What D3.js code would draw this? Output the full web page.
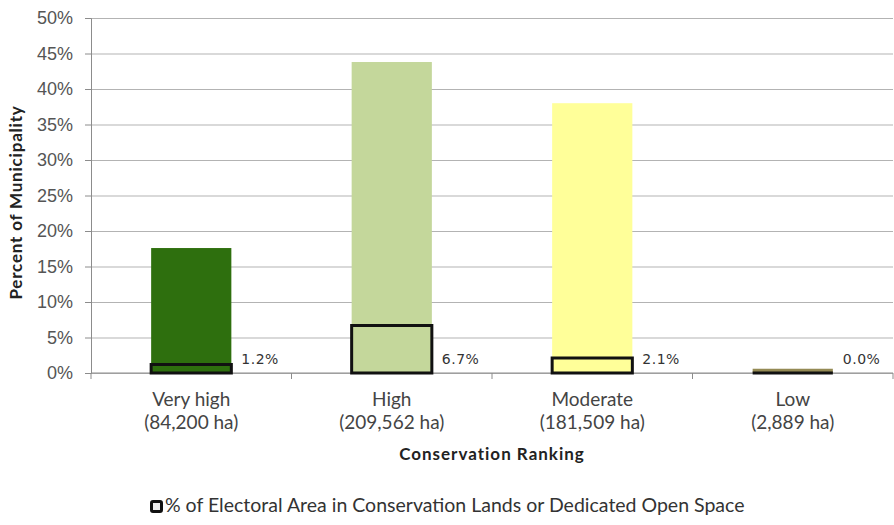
<!DOCTYPE html>
<html>
<head>
<meta charset="utf-8">
<script src="https://cdn.jsdelivr.net/npm/d3@7"></script>
<style>
  body { margin: 0; background: #fff; }
  svg { font-family: Lato, "Open Sans", sans-serif; }
</style>
</head>
<body>
<div id="chart"></div>
<script>
// chart data
const categories = ["Very high", "High", "Moderate", "Low"];
const hectares = ["(84,200 ha)", "(209,562 ha)", "(181,509 ha)", "(2,889 ha)"];
const municipalityPct = [17.6, 43.8, 38.0, 0.6];
const conservationPct = [1.2, 6.7, 2.1, 0.0];
const barColors = ["#2e6f0e", "#c4d79b", "#ffff99", "#948a54"];
const yTicks = [0, 5, 10, 15, 20, 25, 30, 35, 40, 45, 50];

// set the dimensions and margins of the graph
const margin = { top: 18, right: 1, bottom: 152, left: 91 },
    width = 894 - margin.left - margin.right,
    height = 525 - margin.top - margin.bottom;

let svg = d3.select("#chart")
    .append("svg")
    .attr("width", width + margin.left + margin.right)
    .attr("height", height + margin.top + margin.bottom)
    .append("g")
    .attr("transform", "translate(" + margin.left + "," + margin.top + ")");

// scales
let x = d3.scaleBand()
    .domain(categories)
    .range([0, width])
    .paddingInner(0.6)
    .paddingOuter(0.3);

let y = d3.scaleLinear()
    .domain([0, 50])
    .range([height, 0]);

// gridlines + y axis
svg.append("g")
    .call(d3.axisLeft(y).tickValues(yTicks).tickSize(-width).tickFormat(""))
    .call(g => g.select(".domain").remove())
    .selectAll("line")
    .attr("stroke", "#b3b3b3");

svg.append("g")
    .call(d3.axisLeft(y).tickValues(yTicks).tickSize(6).tickPadding(12).tickFormat(d => d + "%"))
    .call(g => g.select(".domain").attr("stroke", "#8c8c8c"))
    .call(g => g.selectAll("line").attr("stroke", "#8c8c8c"))
    .selectAll("text")
    .attr("font-size", "18px")
    .attr("fill", "#555");

// y axis title
svg.append("text")
    .attr("transform", "rotate(-90)")
    .attr("x", -height / 2 - 7)
    .attr("y", -69)
    .style("text-anchor", "middle")
    .attr("font-size", "17px")
    .attr("font-weight", "bold")
    .attr("letter-spacing", "0.8px")
    .attr("fill", "#222")
    .text("Percent of Municipality");

// main bars
svg.selectAll(".bar")
    .data(categories)
    .enter()
    .append("rect")
    .attr("class", "bar")
    .attr("x", d => x(d))
    .attr("width", x.bandwidth())
    .attr("y", (d, i) => y(municipalityPct[i]))
    .attr("height", (d, i) => height - y(municipalityPct[i]))
    .attr("fill", (d, i) => barColors[i]);

// x axis
let step = x.step();
svg.append("g")
    .attr("transform", "translate(0," + height + ")")
    .call(g => g.append("line")
        .attr("x1", 0).attr("x2", width)
        .attr("stroke", "#8c8c8c"))
    .selectAll(".tk")
    .data(d3.range(categories.length + 1))
    .enter()
    .append("line")
    .attr("x1", i => i * step)
    .attr("x2", i => i * step)
    .attr("y1", 0)
    .attr("y2", 6)
    .attr("stroke", "#8c8c8c");

// outlined conservation bars (path so a 0% bar still draws its edge)
svg.selectAll(".outline")
    .data(categories)
    .enter()
    .append("path")
    .attr("class", "outline")
    .attr("d", (d, i) => {
        let p = d3.path();
        p.rect(x(d), y(conservationPct[i]), x.bandwidth(), height - y(conservationPct[i]));
        return p.toString();
    })
    .attr("fill", "none")
    .attr("stroke", "#111")
    .attr("stroke-width", 3);

// value labels
svg.selectAll(".val")
    .data(categories)
    .enter()
    .append("text")
    .attr("x", d => x(d) + x.bandwidth() + 10)
    .attr("y", y(0) - 9)
    .attr("font-family", "DejaVu Sans, sans-serif")
    .attr("font-size", "14px")
    .attr("letter-spacing", "0.5px")
    .attr("fill", "#333")
    .text((d, i) => conservationPct[i].toFixed(1) + "%");

// category labels
categories.forEach((d, i) => {
    let cx = x(d) + x.bandwidth() / 2;
    svg.append("text")
        .attr("x", cx)
        .attr("y", height + 33)
        .style("text-anchor", "middle")
        .attr("font-size", "19px")
        .attr("fill", "#444")
        .text(d);
    svg.append("text")
        .attr("x", cx)
        .attr("y", height + 56)
        .style("text-anchor", "middle")
        .attr("font-size", "19px")
        .attr("fill", "#444")
        .text(hectares[i]);
});

// x axis title
svg.append("text")
    .attr("x", width / 2)
    .attr("y", height + 87)
    .style("text-anchor", "middle")
    .attr("font-size", "17px")
    .attr("font-weight", "bold")
    .attr("letter-spacing", "1px")
    .attr("fill", "#222")
    .text("Conservation Ranking");

// legend
let legend = svg.append("g")
    .attr("transform", "translate(" + (150 - margin.left) + "," + (height + 127) + ")");

legend.append("rect")
    .attr("x", 1.5)
    .attr("y", 1.5)
    .attr("width", 10)
    .attr("height", 10)
    .attr("fill", "#eee")
    .attr("stroke", "#111")
    .attr("stroke-width", 3)
    .attr("rx", 1.5);

legend.append("text")
    .attr("x", 15)
    .attr("y", 12)
    .attr("font-size", "19.5px")
    .attr("fill", "#333")
    .text("% of Electoral Area in Conservation Lands or Dedicated Open Space");
</script>
</body>
</html>
